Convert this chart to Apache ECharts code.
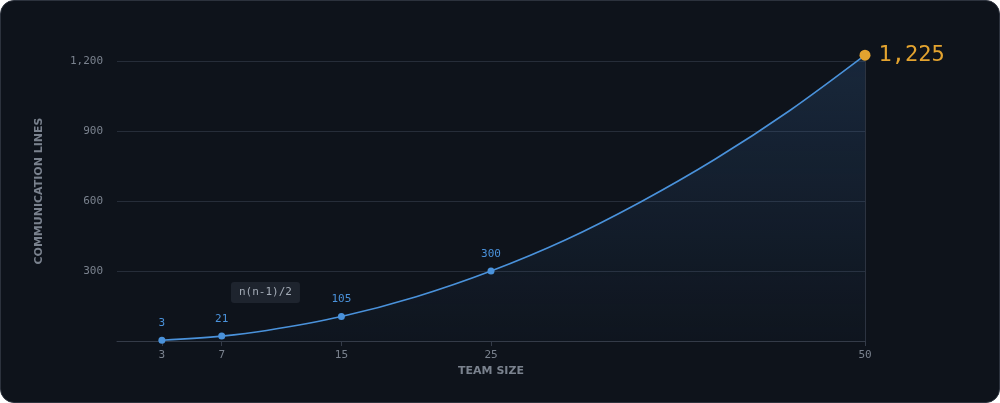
<!DOCTYPE html>
<html><head><meta charset="utf-8">
<script src="https://cdn.jsdelivr.net/npm/echarts@6/dist/echarts.min.js"></script>
<style>
html,body{margin:0;padding:0;background:#ffffff;}
#card{position:absolute;left:0;top:0;width:998px;height:401px;border:1px solid #2c323d;border-radius:14px;background:#0e131b;}
#chart{position:absolute;left:0;top:0;width:1000px;height:403px;}
</style></head>
<body>
<div id="card"></div>
<div id="chart"></div>
<script>
// Labelled points
const teamSizes = [3, 7, 15, 25, 50];
const commLines = [3, 21, 105, 300, 1225];
// Curve trace (team size, lines)
const curveX = [3, 7, 10, 15, 20, 25, 30, 35, 40, 45, 50];
const curveY = [3, 21, 45, 105, 190, 300, 434, 596, 780, 989, 1225];
const xTickValues = [3, 7, 15, 25, 50];
const yTickValues = [300, 600, 900, 1200];
const formulaLabel = 'n(n-1)/2';

const mono = '"DejaVu Sans Mono", monospace';
const fmt = v => v.toLocaleString('en-US');

const chart = echarts.init(document.getElementById('chart'), null, {renderer: 'canvas'});
const pts = teamSizes.map((x, i) => {
  const last = i === teamSizes.length - 1;
  return {
    value: [x, commLines[i]],
    symbolSize: last ? 11 : 7,
    itemStyle: {color: last ? '#e3a32f' : '#4a92db', opacity: 1},
    label: last ? {
      show: true, position: 'right', distance: 8,
      color: '#e3a32f', fontSize: 22, fontFamily: mono,
      formatter: p => fmt(p.value[1])
    } : {
      show: true, position: 'top', distance: 8,
      color: '#4a92db', fontSize: 11, fontFamily: mono,
      formatter: p => fmt(p.value[1])
    }
  };
});
const curve = curveX.map((x, i) => [x, curveY[i]]);

chart.setOption({
  backgroundColor: 'transparent',
  animation: false,
  grid: {left: 117, right: 135, top: 61, bottom: 62},
  xAxis: {
    type: 'value', min: 0, max: 50,
    name: 'TEAM SIZE', nameLocation: 'middle', nameGap: 25,
    nameTextStyle: {color: '#7a828e', fontSize: 11, fontWeight: 'bold', fontFamily: '"DejaVu Sans", sans-serif'},
    axisLine: {show: true, lineStyle: {color: '#343b48', width: 1}},
    axisTick: {show: true, customValues: xTickValues, length: 5, lineStyle: {color: '#343b48'}},
    axisLabel: {customValues: xTickValues, color: '#7a828e', fontSize: 11, fontFamily: mono, margin: 9},
    splitLine: {show: false}
  },
  yAxis: [{
    type: 'value', min: 0, max: 1200, interval: 300,
    name: 'COMMUNICATION LINES', nameLocation: 'middle', nameGap: 72, nameRotate: 90,
    nameTextStyle: {color: '#7a828e', fontSize: 11, fontWeight: 'bold', fontFamily: '"DejaVu Sans", sans-serif', padding: [0, 0, 0, 20]},
    axisLine: {show: false}, axisTick: {show: false},
    axisLabel: {color: '#7a828e', fontSize: 11, fontFamily: mono, margin: 14,
      formatter: v => (yTickValues.indexOf(v) >= 0 ? fmt(v) : '')},
    splitLine: {show: true, lineStyle: {color: '#262d39', width: 1}}
  }, {
    type: 'value', min: 0, max: 1200, interval: 300, position: 'right',
    axisLine: {show: true, lineStyle: {color: '#2c3340', width: 1}},
    axisTick: {show: false}, axisLabel: {show: false}, splitLine: {show: false}
  }],
  series: [{
    type: 'line', data: curve, smooth: 0.33, clip: false,
    symbol: 'none',
    lineStyle: {color: '#4a92db', width: 1.6},
    areaStyle: {
      color: new echarts.graphic.LinearGradient(0, 0, 0, 1, [
        {offset: 0, color: 'rgba(60,110,170,0.32)'},
        {offset: 1, color: 'rgba(60,110,170,0.04)'}
      ])
    },
    z: 3
  }, {
    type: 'scatter', data: pts, clip: false, symbol: 'circle', z: 4
  }],
  graphic: [{
    type: 'text', left: 231, top: 282, z: 10,
    style: {
      text: formulaLabel, fill: '#a3abb6', fontSize: 11, fontFamily: mono,
      backgroundColor: '#1e242e', padding: [5, 8, 5, 8], borderRadius: 3
    }
  }]
});
</script>
</body></html>
